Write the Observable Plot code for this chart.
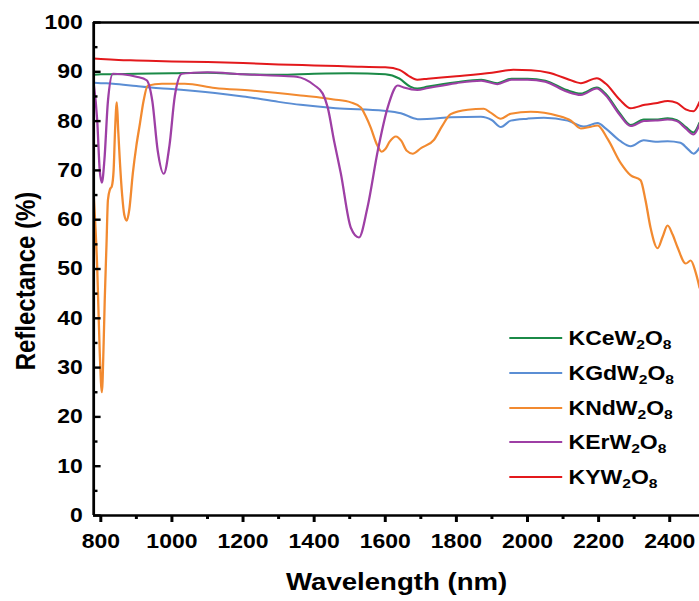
<!DOCTYPE html>
<html>
<head>
<meta charset="utf-8">
<script src="https://cdn.jsdelivr.net/npm/d3@7"></script>
<script src="https://cdn.jsdelivr.net/npm/@observablehq/plot@0.6"></script>
<style>
  html, body { margin: 0; padding: 0; background: #fff; }
  #wrap { position: relative; width: 608px; height: 601px; transform: scaleX(1.1497); transform-origin: 0 0; }
  #legend { position: absolute; left: 0; top: 0; font-family: "Liberation Sans", Arial, sans-serif; font-weight: bold; font-size: 20px; color: #000; }
  .row { position: absolute; display: flex; align-items: center; height: 20px; line-height: 20px; white-space: nowrap; }
  .sw { width: 46px; height: 0; border-top: 2.5px solid; margin-right: 6px; }
  .row sub { font-size: 0.68em; line-height: 0; vertical-align: -0.3em; }
</style>
</head>
<body>
<div id="wrap"><div id="chart"></div><div id="legend"></div></div>
<script>
// ---- data ----
const seriesNames = ["KCeW2O8", "KGdW2O8", "KNdW2O8", "KErW2O8", "KYW2O8"];
const seriesLabels = ["KCeW<sub>2</sub>O<sub>8</sub>", "KGdW<sub>2</sub>O<sub>8</sub>", "KNdW<sub>2</sub>O<sub>8</sub>", "KErW<sub>2</sub>O<sub>8</sub>", "KYW<sub>2</sub>O<sub>8</sub>"];
const seriesColors = ["#1b8a47", "#5b8ed4", "#f28a30", "#9e3fa5", "#e3191c"];

const kceWl = [780, 800, 900, 1000, 1100, 1200, 1300, 1400, 1500, 1600, 1640, 1670, 1690, 1720, 1800, 1870, 1915, 1955, 2000, 2050, 2110, 2150, 2195, 2220, 2260, 2290, 2327, 2360, 2394, 2420, 2445, 2467, 2484];
const kceR  = [89.4, 89.5, 89.6, 89.7, 89.8, 89.5, 89.4, 89.6, 89.7, 89.5, 88.6, 87.0, 86.6, 87.0, 87.9, 88.4, 87.7, 88.6, 88.6, 88.2, 86.3, 85.6, 86.8, 85.5, 81.5, 79.2, 80.3, 80.3, 80.6, 80.2, 78.8, 77.7, 79.7];

const kgdWl = [780, 800, 834, 900, 941, 1000, 1121, 1200, 1300, 1362, 1461, 1596, 1644, 1691, 1730, 1784, 1869, 1900, 1925, 1953, 2000, 2046, 2113, 2158, 2197, 2220, 2260, 2290, 2327, 2360, 2394, 2430, 2450, 2467, 2484];
const kgdR  = [87.8, 87.7, 87.6, 87.1, 86.8, 86.5, 85.7, 85.0, 83.9, 83.3, 82.6, 82.1, 81.6, 80.4, 80.5, 80.8, 80.9, 80.2, 78.8, 80.1, 80.5, 80.7, 80.1, 78.9, 79.6, 78.5, 76.0, 74.9, 76.1, 75.8, 75.9, 75.6, 74.4, 73.4, 74.6];

const kndWl = [780, 790, 797, 803, 808, 811, 816, 820, 826, 831, 836, 840, 845, 849, 853, 860, 866, 873, 880, 890, 900, 910, 920, 932, 972, 1036, 1121, 1222, 1362, 1455, 1503, 1531, 1545, 1559, 1575, 1590, 1600, 1612, 1630, 1645, 1660, 1677, 1700, 1737, 1760, 1784, 1832, 1877, 1897, 1925, 1953, 2009, 2085, 2122, 2150, 2175, 2197, 2226, 2262, 2290, 2318, 2332, 2346, 2366, 2380, 2394, 2408, 2422, 2445, 2459, 2473, 2484];
const kndR  = [65, 50, 33, 25, 35, 43.6, 55, 64, 66.2, 66.8, 70, 78, 83.8, 78, 72.6, 65, 61, 59.8, 62, 69.4, 75, 79.5, 84, 87.2, 87.6, 87.6, 86.7, 86.2, 85.2, 84.4, 83.8, 82.8, 81, 78.7, 75.5, 73.8, 74.3, 75.8, 76.9, 76, 74, 73.4, 74.5, 76.2, 79, 81.4, 82.3, 82.5, 81.7, 80.5, 81.5, 81.9, 81.1, 80.1, 78.5, 78.8, 79.1, 76.3, 71.5, 69, 68, 63.9, 58.4, 54.2, 56.5, 58.8, 57, 54.4, 51.1, 51.7, 49.3, 46.2];

const kerWl = [780, 790, 797, 803, 810, 820, 834, 860, 900, 929, 945, 960, 977, 993, 1008, 1028, 1060, 1100, 1200, 1300, 1350, 1400, 1424, 1438, 1456, 1475, 1503, 1526, 1550, 1579, 1607, 1635, 1652, 1690, 1720, 1800, 1870, 1915, 1955, 2000, 2050, 2110, 2150, 2195, 2220, 2260, 2290, 2327, 2360, 2394, 2420, 2445, 2467, 2484];
const kerR  = [87.6, 80, 70, 67.5, 72, 84, 89.6, 89.5, 89.0, 88.3, 84, 74, 69.3, 75, 85, 89.6, 89.8, 89.9, 89.5, 89.2, 89.0, 87.3, 85.6, 82.8, 76, 69.4, 58.4, 56.4, 62.5, 74, 82.8, 87.2, 86.8, 86.3, 86.7, 87.7, 88.2, 87.5, 88.4, 88.4, 88.0, 86.0, 85.3, 86.6, 85.2, 81.2, 79.0, 80.0, 80.1, 80.3, 80.0, 78.5, 77.3, 79.4];

const kyWl = [780, 800, 850, 900, 1000, 1100, 1200, 1300, 1400, 1500, 1600, 1640, 1665, 1690, 1720, 1800, 1900, 1960, 2010, 2060, 2110, 2150, 2195, 2220, 2260, 2290, 2330, 2360, 2395, 2420, 2445, 2467, 2484];
const kyR  = [92.7, 92.6, 92.4, 92.3, 92.1, 92.0, 91.8, 91.5, 91.3, 91.1, 90.9, 90.4, 89.2, 88.4, 88.6, 89.1, 89.8, 90.4, 90.3, 89.8, 88.6, 87.7, 88.7, 87.6, 84.3, 82.6, 83.3, 83.6, 84.1, 83.7, 82.4, 82.0, 83.9];

const xDomain = [780, 2484];
const yDomain = [0, 100];
const xMajorTicks = [800, 1000, 1200, 1400, 1600, 1800, 2000, 2200, 2400];
const xMinorTicks = [900, 1100, 1300, 1500, 1700, 1900, 2100, 2300];
const yMajorTicks = [0, 10, 20, 30, 40, 50, 60, 70, 80, 90, 100];
const yMinorTicks = [5, 15, 25, 35, 45, 55, 65, 75, 85, 95];
const xTitle = "Wavelength (nm)";
const yTitle = "Reflectance (%)";

// ---- build table ----
const wlArrays = [kceWl, kgdWl, kndWl, kerWl, kyWl];
const rArrays = [kceR, kgdR, kndR, kerR, kyR];
const rows = [];
seriesNames.forEach((name, i) => {
  wlArrays[i].forEach((w, j) => rows.push({series: name, wl: w, r: rArrays[i][j]}));
});

const W = 608, H = 601, ML = 81, MR = 0, MT = 22, MB = 86;
const innerW = W - ML - MR;
const font = "'Liberation Sans', Arial, Helvetica, sans-serif";

const chart = Plot.plot({
  width: W, height: H,
  marginLeft: ML, marginRight: MR, marginTop: MT, marginBottom: MB,
  style: {fontFamily: font, color: "#000", background: "#fff"},
  x: {domain: xDomain},
  y: {domain: yDomain},
  color: {domain: seriesNames, range: seriesColors},
  marks: [
    Plot.line(rows, {x: "wl", y: "r", z: "series", stroke: "series", strokeWidth: 2, curve: "monotone-x", clip: true}),
    Plot.ruleY([yDomain[1]], {stroke: "#000", strokeWidth: 2.6}),
    Plot.ruleY([yDomain[0]], {stroke: "#000", strokeWidth: 2.6}),
    Plot.ruleX([xDomain[0]], {stroke: "#000", strokeWidth: 2.4}),
    Plot.tickY(yMajorTicks, {y: d => d, insetRight: innerW - 6.5, stroke: "#000", strokeWidth: 2.4}),
    Plot.tickY(yMinorTicks, {y: d => d, insetRight: innerW - 3.8, stroke: "#000", strokeWidth: 2.4}),
    Plot.axisY(yMajorTicks, {tickSize: 0, tickPadding: 9.5, fontSize: 20, fontWeight: "bold", tickFormat: d => String(d), label: null}),
    Plot.axisX(xMajorTicks, {tickSize: 7, tickPadding: 11, fontSize: 20, fontWeight: "bold", strokeWidth: 2.6, tickFormat: d => String(d), label: null}),
    Plot.axisX(xMinorTicks, {tickSize: 4, strokeWidth: 2.6, tickFormat: () => "", label: null}),
    Plot.text([xTitle], {frameAnchor: "bottom", lineAnchor: "middle", textAnchor: "middle", dy: 67, fontSize: 24, fontWeight: "bold", fill: "#000"}),
    Plot.text([yTitle], {frameAnchor: "left", lineAnchor: "middle", textAnchor: "middle", rotate: -90, dx: -59, dy: 12, fontSize: 24, fontWeight: "bold", fill: "#000"})
  ]
});
document.getElementById("chart").appendChild(chart);

// ---- legend (inside the plot area) ----
const legend = document.getElementById("legend");
const rowCenters = [338, 373, 408, 442, 477];
seriesLabels.forEach((lab, i) => {
  const r = document.createElement("div");
  r.className = "row";
  r.style.left = "442.5px";
  r.style.top = (rowCenters[i] - 10) + "px";
  const sw = document.createElement("div");
  sw.className = "sw";
  sw.style.borderTopColor = seriesColors[i];
  const t = document.createElement("span");
  t.innerHTML = lab;
  r.appendChild(sw);
  r.appendChild(t);
  legend.appendChild(r);
});
</script>
</body>
</html>
